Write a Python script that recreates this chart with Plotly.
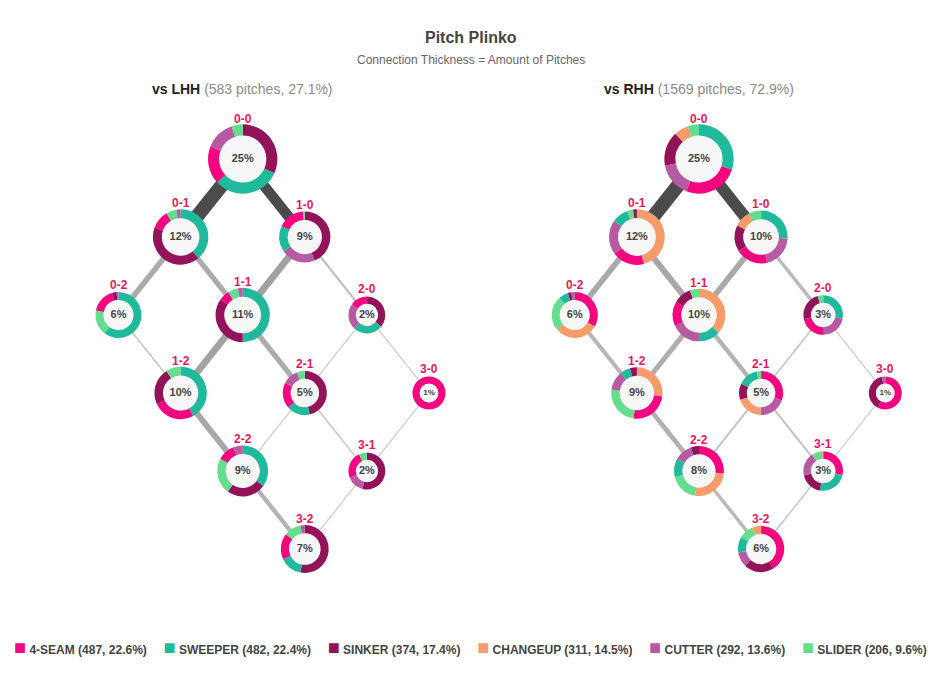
import math
import plotly.graph_objects as go

W, H = 949, 673          # browser window
OFF = 8                  # page body margin
FW, FH = W - 2 * OFF, H - 2 * OFF
FONT = "Liberation Sans, Arial, Helvetica, sans-serif"

# ---------------- data ----------------
PITCHES = ["4-SEAM", "SWEEPER", "SINKER", "CHANGEUP", "CUTTER", "SLIDER"]
PITCH_TOTALS = [487, 482, 374, 311, 292, 206]
PITCH_COLORS = ["#f5047f", "#1fb99b", "#92135a", "#f69c6b", "#b65aa1", "#64dd8d"]

COUNTS = ["0-0", "0-1", "1-0", "0-2", "1-1", "2-0", "1-2", "2-1", "3-0", "2-2", "3-1", "3-2"]

LHH_TOTAL = 583
RHH_TOTAL = 1569
LHH_PITCHES = [148, 71, 53, 35, 66, 12, 58, 29, 6, 52, 12, 41]
RHH_PITCHES = [398, 195, 163, 94, 160, 47, 145, 78, 16, 130, 47, 96]

# pitch mix per count (clockwise from 12 o'clock), share of pitches at that count (%)
LHH_MIX_ORDER = [
    ["SINKER", "SWEEPER", "4-SEAM", "CUTTER", "SLIDER"],
    ["SWEEPER", "SINKER", "4-SEAM", "SLIDER", "CUTTER"],
    ["SINKER", "CUTTER", "SWEEPER", "4-SEAM", "SLIDER"],
    ["SWEEPER", "SLIDER", "4-SEAM", "SINKER", "CUTTER"],
    ["SWEEPER", "SINKER", "4-SEAM", "SLIDER", "CUTTER"],
    ["SINKER", "SWEEPER", "CUTTER", "4-SEAM"],
    ["SWEEPER", "4-SEAM", "SINKER", "SLIDER"],
    ["SINKER", "SWEEPER", "4-SEAM", "CUTTER", "SLIDER"],
    ["4-SEAM"],
    ["SWEEPER", "SINKER", "SLIDER", "4-SEAM", "CUTTER"],
    ["SINKER", "CUTTER", "4-SEAM", "SLIDER"],
    ["SINKER", "SWEEPER", "4-SEAM", "SLIDER", "CUTTER"],
]
LHH_MIX_SHARE = [
    [31.7, 31.4, 17.8, 13.9, 5.2],
    [39.0, 41.5, 11.0, 6.0, 2.5],
    [43.6, 22.0, 16.4, 17.0, 1.0],
    [60.4, 17.8, 17.2, 3.3, 1.3],
    [50.0, 34.7, 6.4, 6.1, 2.8],
    [36.0, 26.0, 23.0, 15.0],
    [42.0, 26.0, 23.0, 9.0],
    [46.5, 17.0, 19.0, 11.7, 5.8],
    [100.0],
    [35.0, 25.0, 23.0, 11.0, 6.0],
    [54.0, 15.0, 24.0, 7.0],
    [53.0, 15.0, 17.5, 11.5, 3.0],
]
RHH_MIX_ORDER = [
    ["SWEEPER", "4-SEAM", "CUTTER", "SINKER", "CHANGEUP", "SLIDER"],
    ["CHANGEUP", "4-SEAM", "CUTTER", "SWEEPER", "SLIDER", "SINKER"],
    ["SWEEPER", "CUTTER", "4-SEAM", "SINKER", "CHANGEUP", "SLIDER"],
    ["4-SEAM", "CHANGEUP", "SLIDER", "SWEEPER", "SINKER", "CUTTER"],
    ["CHANGEUP", "SWEEPER", "CUTTER", "4-SEAM", "SINKER", "SLIDER"],
    ["SWEEPER", "CUTTER", "4-SEAM", "SINKER", "SLIDER"],
    ["CHANGEUP", "4-SEAM", "SLIDER", "CUTTER", "SWEEPER", "SINKER"],
    ["4-SEAM", "CUTTER", "CHANGEUP", "SINKER", "SWEEPER", "SLIDER"],
    ["4-SEAM", "SINKER", "CUTTER"],
    ["4-SEAM", "CHANGEUP", "SLIDER", "SWEEPER", "CUTTER", "SINKER"],
    ["4-SEAM", "SWEEPER", "SINKER", "CUTTER", "SLIDER", "CHANGEUP"],
    ["4-SEAM", "SINKER", "CUTTER", "SWEEPER", "SLIDER", "CHANGEUP"],
]
RHH_MIX_SHARE = [
    [30.0, 26.0, 16.0, 16.0, 6.7, 5.3],
    [46.0, 18.8, 19.9, 9.6, 3.5, 2.2],
    [26.0, 20.3, 19.7, 16.1, 10.3, 7.6],
    [33.3, 31.0, 24.0, 6.8, 2.5, 2.4],
    [36.7, 13.3, 18.3, 14.9, 11.2, 5.6],
    [28.0, 21.4, 22.2, 23.9, 4.5],
    [27.2, 24.9, 25.0, 12.2, 6.3, 4.4],
    [30.5, 20.0, 19.5, 11.9, 15.0, 3.1],
    [57.6, 39.0, 3.4],
    [26.7, 25.8, 18.6, 12.0, 11.6, 5.3],
    [28.3, 24.4, 18.6, 19.2, 8.6, 0.9],
    [41.1, 21.1, 10.3, 11.1, 10.0, 6.4],
]

# count-to-count transitions (number of pitches)
EDGE_FROM = ["0-0", "0-0", "0-1", "0-1", "1-0", "1-0", "0-2", "1-1", "1-1",
             "2-0", "2-0", "1-2", "2-1", "2-1", "3-0", "2-2", "3-1"]
EDGE_TO = ["0-1", "1-0", "0-2", "1-1", "1-1", "2-0", "1-2", "1-2", "2-1",
           "2-1", "3-0", "2-2", "2-2", "3-1", "3-1", "3-2", "3-2"]
LHH_FLOW = [71, 53, 28, 27, 35, 12, 8, 34, 27, 6, 6, 30, 6, 8, 5, 22, 6]
RHH_FLOW = [195, 163, 80, 84, 80, 47, 55, 70, 60, 24, 16, 65, 28, 30, 14, 48, 22]

COLOR_OF = dict(zip(PITCHES, PITCH_COLORS))
GRAND_TOTAL = LHH_TOTAL + RHH_TOTAL


def node_pos(count, cx0):
    b, s = (int(v) for v in count.split("-"))
    return cx0 + (b - s) * 62.1, 159 + (b + s) * 78


def outer_r(share):
    return 12 + 4.5 * math.sqrt(share)


def inner_r(share):
    return outer_r(share) - (7 + 0.16 * share)


def edge_color(f):
    if f > 0.6:
        return "#4b4b4b"
    g = int(round(210 - 100 * f))
    return f"rgb({g},{g},{g})"


fig = go.Figure()
annotations = []

PANELS = [
    ("LHH", LHH_TOTAL, LHH_PITCHES, LHH_MIX_ORDER, LHH_MIX_SHARE, LHH_FLOW, 242.7),
    ("RHH", RHH_TOTAL, RHH_PITCHES, RHH_MIX_ORDER, RHH_MIX_SHARE, RHH_FLOW, 699.0),
]

for side, total, pitches, mix_order, mix_share, flows, cx0 in PANELS:
    shares = [p / total * 100 for p in pitches]
    share_of = dict(zip(COUNTS, shares))
    pos = {c: node_pos(c, cx0) for c in COUNTS}
    fmax = max(flows)

    # connections, drawn from ring edge to ring edge
    for a, b, fl in zip(EDGE_FROM, EDGE_TO, flows):
        f = fl / fmax
        (x0, y0), (x1, y1) = pos[a], pos[b]
        d = math.hypot(x1 - x0, y1 - y0)
        ux, uy = (x1 - x0) / d, (y1 - y0) / d
        ra = outer_r(share_of[a]) - 2
        rb = outer_r(share_of[b]) - 2
        fig.add_trace(go.Scatter(
            x=[x0 + ux * ra, x1 - ux * rb], y=[y0 + uy * ra, y1 - uy * rb],
            mode="lines",
            line=dict(color=edge_color(f), width=max(1.2, 14 * f)),
            hoverinfo="skip", showlegend=False,
        ))

    # inner discs with labels
    xs = [pos[c][0] for c in COUNTS]
    ys = [pos[c][1] for c in COUNTS]
    fig.add_trace(go.Scatter(
        x=xs, y=ys, mode="markers+text",
        marker=dict(size=[2 * (inner_r(s) - 0.5) for s in shares], color="#f3f3f3",
                    line=dict(width=0)),
        text=[f"<b>{round(s)}%</b>" for s in shares],
        textposition="middle center",
        textfont=dict(family=FONT, color="#444444",
                      size=[11 if s >= 1.5 else 8 for s in shares]),
        hoverinfo="skip", showlegend=False,
    ))

    # donuts
    for c, s, order, vals in zip(COUNTS, shares, mix_order, mix_share):
        cx, cy = pos[c]
        r = outer_r(s)
        fig.add_trace(go.Pie(
            labels=order, values=vals,
            marker=dict(colors=[COLOR_OF[p] for p in order], line=dict(width=0)),
            hole=inner_r(s) / r, sort=False, direction="clockwise", rotation=0,
            textinfo="none", showlegend=False, hoverinfo="label+percent",
            domain=dict(x=[(cx - OFF - r) / FW, (cx - OFF + r) / FW],
                        y=[1 - (cy - OFF + r) / FH, 1 - (cy - OFF - r) / FH]),
        ))
        annotations.append(dict(
            x=cx, y=cy - (0.87 * r + 9.5), xref="x", yref="y", showarrow=False,
            text=f"<b>{c}</b>", font=dict(family=FONT, size=12, color="#e5185d"),
            xanchor="center", yanchor="middle",
        ))

    annotations.append(dict(
        x=cx0, y=89, xref="x", yref="y", showarrow=False,
        text=(f"<b>vs {side}</b> <span style='color:#8a8a8a'>({total} pitches, "
              f"{total / GRAND_TOTAL * 100:.1f}%)</span>"),
        font=dict(family=FONT, size=14, color="#222222"),
        xanchor="center", yanchor="middle",
    ))

# titles
annotations.append(dict(x=470.5, y=37, xref="x", yref="y", showarrow=False,
                        text="<b>Pitch Plinko</b>",
                        font=dict(family=FONT, size=16, color="#444444")))
annotations.append(dict(x=470.5, y=60, xref="x", yref="y", showarrow=False,
                        text="Connection Thickness = Amount of Pitches",
                        font=dict(family=FONT, size=12, color="#666666")))

# legend
items = []
for name, n, col in zip(PITCHES, PITCH_TOTALS, PITCH_COLORS):
    items.append(f"<span style='color:{col};font-size:20px'>\u25a0</span>"
                 f"<b>\u00a0{name} ({n}, {n / GRAND_TOTAL * 100:.1f}%)</b>")
annotations.append(dict(x=470, y=647, xref="x", yref="y", showarrow=False,
                        text="\u00a0\u00a0\u00a0\u00a0\u00a0".join(items),
                        font=dict(family=FONT, size=12, color="#444444"),
                        xanchor="center", yanchor="middle"))

fig.update_layout(
    width=FW, height=FH, margin=dict(l=0, r=0, t=0, b=0),
    paper_bgcolor="white", plot_bgcolor="white",
    xaxis=dict(range=[OFF, OFF + FW], visible=False, fixedrange=True),
    yaxis=dict(range=[OFF + FH, OFF], visible=False, fixedrange=True),
    annotations=annotations, showlegend=False,
)

fig.write_html("out.html")
